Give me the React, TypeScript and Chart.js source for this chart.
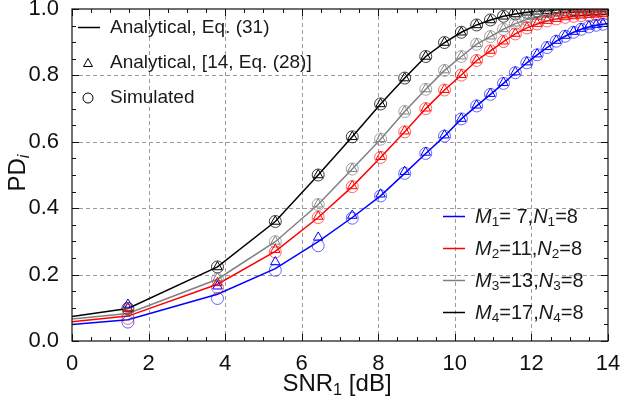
import React, { useEffect, useRef } from 'react';
import { Chart, registerables } from 'chart.js';

Chart.register(...registerables);

// SNR_1 [dB] sample positions
const lineX = [0, 1.46, 3.8, 5.31, 6.43, 7.32, 8.06, 8.69, 9.24, 9.73, 10.17, 10.57, 10.93, 11.27, 11.58, 11.88, 12.15, 12.41, 12.65, 12.88, 13.1, 13.3, 13.5, 13.69, 13.87, 14];
const markerX = [1.46, 3.8, 5.31, 6.43, 7.32, 8.06, 8.69, 9.24, 9.73, 10.17, 10.57, 10.93, 11.27, 11.58, 11.88, 12.15, 12.41, 12.65, 12.88, 13.1, 13.3, 13.5, 13.69, 13.87];

// Analytical, Eq. (31) (lines)
const blueLine = [0.05, 0.064, 0.141, 0.218, 0.299, 0.372, 0.437, 0.505, 0.565, 0.617, 0.669, 0.708, 0.743, 0.776, 0.808, 0.838, 0.862, 0.884, 0.903, 0.918, 0.93, 0.939, 0.946, 0.951, 0.954, 0.956];
const redLine = [0.058, 0.075, 0.171, 0.27, 0.372, 0.465, 0.553, 0.63, 0.7, 0.756, 0.801, 0.845, 0.874, 0.902, 0.925, 0.943, 0.955, 0.964, 0.97, 0.975, 0.978, 0.98, 0.982, 0.983, 0.984, 0.985];
const grayLine = [0.066, 0.083, 0.186, 0.299, 0.411, 0.518, 0.608, 0.691, 0.758, 0.815, 0.857, 0.894, 0.917, 0.939, 0.956, 0.968, 0.976, 0.982, 0.986, 0.989, 0.991, 0.993, 0.994, 0.995, 0.996, 0.996];
const blackLine = [0.074, 0.098, 0.223, 0.36, 0.5, 0.615, 0.714, 0.792, 0.857, 0.899, 0.93, 0.952, 0.967, 0.978, 0.985, 0.99, 0.993, 0.995, 0.997, 0.998, 0.998, 0.999, 0.999, 0.999, 1.0, 1.0];

// Analytical, [14, Eq. (28)] (triangles)
const blueTri = [0.11, 0.165, 0.238, 0.312, 0.378, 0.442, 0.51, 0.568, 0.62, 0.67, 0.71, 0.745, 0.778, 0.81, 0.84, 0.864, 0.886, 0.905, 0.92, 0.932, 0.941, 0.948, 0.953, 0.956];
const redTri = [0.1, 0.175, 0.275, 0.375, 0.467, 0.555, 0.632, 0.701, 0.757, 0.802, 0.846, 0.875, 0.903, 0.926, 0.944, 0.956, 0.965, 0.971, 0.976, 0.979, 0.981, 0.983, 0.984, 0.985];
const grayTri = [0.1, 0.19, 0.3, 0.412, 0.519, 0.609, 0.692, 0.759, 0.816, 0.858, 0.895, 0.918, 0.94, 0.957, 0.969, 0.977, 0.983, 0.987, 0.99, 0.992, 0.994, 0.995, 0.996, 0.997];
const blackTri = [0.098, 0.223, 0.36, 0.5, 0.615, 0.714, 0.792, 0.857, 0.899, 0.93, 0.952, 0.967, 0.978, 0.985, 0.99, 0.993, 0.995, 0.997, 0.998, 0.998, 0.999, 0.999, 0.999, 1.0];

// Simulated (circles)
const blueSim = [0.057, 0.128, 0.213, 0.287, 0.37, 0.437, 0.505, 0.565, 0.617, 0.669, 0.708, 0.743, 0.776, 0.808, 0.838, 0.862, 0.884, 0.903, 0.918, 0.93, 0.939, 0.946, 0.951, 0.954];
const redSim = [0.068, 0.161, 0.268, 0.372, 0.465, 0.553, 0.63, 0.7, 0.756, 0.801, 0.845, 0.874, 0.902, 0.925, 0.943, 0.955, 0.964, 0.97, 0.975, 0.978, 0.98, 0.982, 0.983, 0.984];
const graySim = [0.08, 0.186, 0.299, 0.411, 0.518, 0.608, 0.691, 0.758, 0.815, 0.857, 0.894, 0.917, 0.939, 0.956, 0.968, 0.976, 0.982, 0.986, 0.989, 0.991, 0.993, 0.994, 0.995, 0.996];
const blackSim = [0.098, 0.223, 0.36, 0.5, 0.615, 0.714, 0.792, 0.857, 0.899, 0.93, 0.952, 0.967, 0.978, 0.985, 0.99, 0.993, 0.995, 0.997, 0.998, 0.998, 0.999, 0.999, 0.999, 1.0];

const seriesColors = ['#0000ff', '#ff0000', '#808080', '#000000'];
const seriesFaded = ['rgba(0,0,255,0.6)', 'rgba(255,0,0,0.6)', 'rgba(128,128,128,0.7)', 'rgba(0,0,0,0.75)'];
const seriesM = ['7', '11', '13', '17'];
const seriesMPad = [' 7', '11', '13', '17'];
const seriesN = ['8', '8', '8', '8'];
const seriesIdx = ['1', '2', '3', '4'];

const xTickValues = [0, 2, 4, 6, 8, 10, 12, 14];
const yTickValues = [0, 0.2, 0.4, 0.6, 0.8, 1.0];

const FONT = '"Liberation Sans", Arial, Helvetica, sans-serif';

type Seg = { t: string; it?: boolean; sub?: boolean };

function segWidth(ctx: CanvasRenderingContext2D, segs: Seg[], size: number) {
  let w = 0;
  for (const s of segs) {
    const fs = s.sub ? size * 0.68 : size;
    ctx.font = `${s.it ? 'italic ' : ''}${fs}px ${FONT}`;
    w += ctx.measureText(s.t).width;
  }
  return w;
}

function drawRich(ctx: CanvasRenderingContext2D, x: number, y: number, segs: Seg[], size: number) {
  let cx = x;
  for (const s of segs) {
    const fs = s.sub ? size * 0.68 : size;
    ctx.font = `${s.it ? 'italic ' : ''}${fs}px ${FONT}`;
    ctx.fillText(s.t, cx, y + (s.sub ? size * 0.27 : 0));
    cx += ctx.measureText(s.t).width;
  }
}

const framePlugin = {
  id: 'framePlugin',
  beforeDatasetsDraw(chart: any) {
    const { ctx, chartArea: a, scales } = chart;
    const xs = scales.x, ys = scales.y;
    ctx.save();
    ctx.strokeStyle = '#9a9a9a';
    ctx.lineWidth = 1;
    ctx.setLineDash([4, 3]);
    for (const v of xTickValues) {
      if (v === 0 || v === 14) continue;
      const px = Math.round(xs.getPixelForValue(v)) + 0.5;
      ctx.beginPath(); ctx.moveTo(px, a.top); ctx.lineTo(px, a.bottom); ctx.stroke();
    }
    for (const v of yTickValues) {
      if (v === 0 || v === 1) continue;
      const py = Math.round(ys.getPixelForValue(v)) + 0.5;
      ctx.beginPath(); ctx.moveTo(a.left, py); ctx.lineTo(a.right, py); ctx.stroke();
    }
    ctx.restore();
  },
  afterDraw(chart: any) {
    const { ctx, chartArea: a, scales } = chart;
    const xs = scales.x, ys = scales.y;
    ctx.save();
    // frame
    ctx.strokeStyle = '#111';
    ctx.lineWidth = 1.2;
    ctx.strokeRect(a.left, a.top, a.right - a.left, a.bottom - a.top);
    // ticks
    ctx.lineWidth = 1;
    ctx.beginPath();
    for (let k = 0; k <= 28; k++) {
      const v = k * 0.5;
      const px = Math.round(xs.getPixelForValue(v)) + 0.5;
      const len = k % 4 === 0 ? 7 : 4;
      ctx.moveTo(px, a.bottom); ctx.lineTo(px, a.bottom - len);
      ctx.moveTo(px, a.top); ctx.lineTo(px, a.top + len);
    }
    for (let k = 0; k <= 20; k++) {
      const v = k * 0.05;
      const py = Math.round(ys.getPixelForValue(v)) + 0.5;
      const len = k % 4 === 0 ? 7 : 4;
      ctx.moveTo(a.left, py); ctx.lineTo(a.left + len, py);
      ctx.moveTo(a.right, py); ctx.lineTo(a.right - len, py);
    }
    ctx.stroke();

    // axis titles
    ctx.fillStyle = '#111';
    ctx.textBaseline = 'middle';
    ctx.textAlign = 'left';
    const xt: Seg[] = [{ t: 'SNR' }, { t: '1', sub: true }, { t: ' [dB]' }];
    const xw = segWidth(ctx, xt, 24);
    drawRich(ctx, 337 - xw / 2, 384, xt, 24);

    const yt: Seg[] = [{ t: 'PD' }, { t: 'i', sub: true, it: true }];
    const yw = segWidth(ctx, yt, 24);
    ctx.save();
    ctx.translate(18, 173);
    ctx.rotate(-Math.PI / 2);
    drawRich(ctx, -yw / 2, 0, yt, 24);
    ctx.restore();

    // top-left legend
    ctx.fillStyle = '#1a1a1a';
    ctx.font = `19px ${FONT}`;
    ctx.strokeStyle = '#000';
    ctx.lineWidth = 1.5;
    ctx.beginPath(); ctx.moveTo(78, 27.5); ctx.lineTo(100, 27.5); ctx.stroke();
    ctx.fillText('Analytical, Eq. (31)', 110, 28);
    ctx.lineWidth = 1;
    ctx.beginPath();
    ctx.moveTo(88, 58.5); ctx.lineTo(92.5, 66.5); ctx.lineTo(83.5, 66.5); ctx.closePath(); ctx.stroke();
    ctx.fillText('Analytical, [14, Eq. (28)]', 110, 63);
    ctx.beginPath(); ctx.arc(88, 98, 5, 0, Math.PI * 2); ctx.stroke();
    ctx.fillText('Simulated', 110, 98);

    // bottom-right legend
    const ly = [216, 248, 280, 312];
    for (let i = 0; i < 4; i++) {
      ctx.strokeStyle = seriesColors[i];
      ctx.lineWidth = 1.5;
      ctx.beginPath(); ctx.moveTo(443, ly[i] + 0.5); ctx.lineTo(465, ly[i] + 0.5); ctx.stroke();
      ctx.fillStyle = '#1a1a1a';
      const segs: Seg[] = [
        { t: 'M', it: true }, { t: seriesIdx[i], sub: true }, { t: '=' + seriesMPad[i] + ',' },
        { t: 'N', it: true }, { t: seriesIdx[i], sub: true }, { t: '=' + seriesN[i] },
      ];
      drawRich(ctx, 475, ly[i] + 1, segs, 20);
    }
    ctx.restore();
  },
};

export default function App() {
  const ref = useRef<HTMLCanvasElement | null>(null);
  useEffect(() => {
    if (!ref.current) return;
    const lines = [blueLine, redLine, grayLine, blackLine];
    const tris = [blueTri, redTri, grayTri, blackTri];
    const sims = [blueSim, redSim, graySim, blackSim];
    const datasets: any[] = [];
    for (let i = 0; i < 4; i++) {
      datasets.push({
        label: `M${seriesIdx[i]}=${seriesM[i]}, N${seriesIdx[i]}=${seriesN[i]}`,
        data: lineX.map((x, j) => ({ x, y: lines[i][j] })),
        showLine: true,
        pointRadius: 0,
        borderColor: seriesColors[i],
        borderWidth: 1.5,
        order: 2,
      });
      datasets.push({
        label: 'Analytical [14]',
        data: markerX.map((x, j) => ({ x, y: tris[i][j] })),
        showLine: false,
        pointStyle: 'triangle',
        pointRadius: 5.5,
        pointBorderWidth: 1,
        pointBorderColor: seriesColors[i],
        pointBackgroundColor: 'rgba(0,0,0,0)',
        order: 1,
      });
      datasets.push({
        label: 'Simulated',
        data: markerX.map((x, j) => ({ x, y: sims[i][j] })),
        showLine: false,
        pointStyle: 'circle',
        pointRadius: 6,
        pointBorderWidth: 1,
        pointBorderColor: seriesFaded[i],
        pointBackgroundColor: 'rgba(0,0,0,0)',
        order: 1,
      });
    }
    const chart = new Chart(ref.current, {
      type: 'scatter',
      data: { datasets },
      options: {
        animation: false,
        responsive: false,
        events: [],
        layout: { padding: { top: 9, right: 14, left: 0, bottom: 0 } },
        plugins: { legend: { display: false }, tooltip: { enabled: false } },
        scales: {
          x: {
            type: 'linear', min: 0, max: 14,
            afterBuildTicks: (s: any) => { s.ticks = xTickValues.map((v) => ({ value: v })); },
            ticks: { color: '#111', font: { family: FONT, size: 22 }, padding: 2, maxRotation: 0, autoSkip: false, callback: (v: any) => String(v) },
            grid: { display: false },
            border: { display: false },
            afterFit: (s: any) => { s.height = 61; s.paddingLeft = 0; s.paddingRight = 0; },
          },
          y: {
            type: 'linear', min: 0, max: 1,
            afterBuildTicks: (s: any) => { s.ticks = yTickValues.map((v) => ({ value: v })); },
            ticks: { color: '#111', font: { family: FONT, size: 22 }, padding: 5, autoSkip: false, callback: (v: any) => Number(v).toFixed(1) },
            grid: { display: false },
            border: { display: false },
            afterFit: (s: any) => { s.width = 72; s.paddingTop = 0; s.paddingBottom = 0; },
          },
        },
      } as any,
      plugins: [framePlugin],
    });
    return () => chart.destroy();
  }, []);
  return (
    <div style={{ position: 'fixed', left: 0, top: 0, width: 622, height: 402, background: '#fff' }}>
      <canvas ref={ref} width={622} height={402} style={{ display: 'block' }} />
    </div>
  );
}
